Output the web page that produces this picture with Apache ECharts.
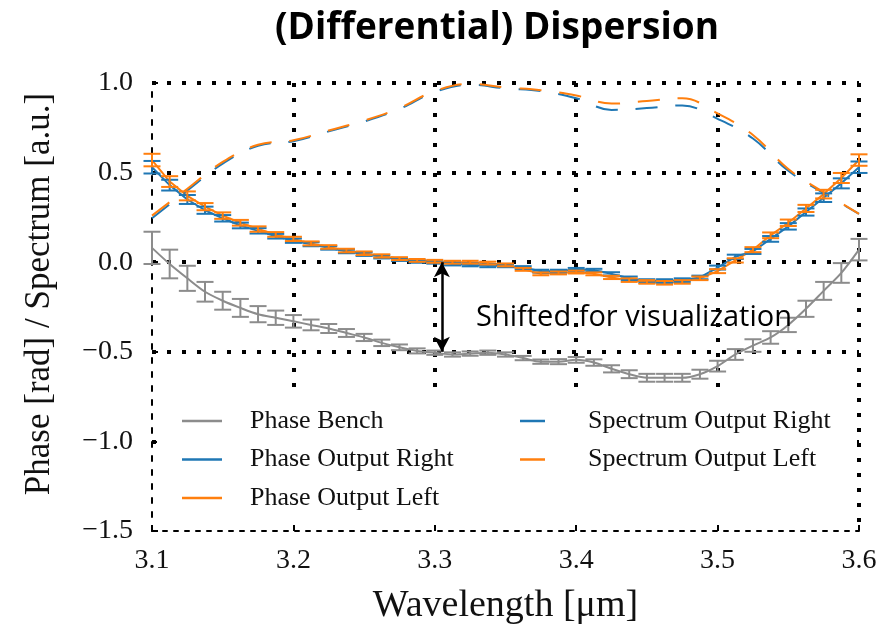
<!DOCTYPE html>
<html>
<head>
<meta charset="utf-8">
<script src="https://cdn.jsdelivr.net/npm/echarts@6/dist/echarts.min.js"></script>
<style>
html, body { margin: 0; padding: 0; background: #fff; }
#chart { width: 892px; height: 630px; }
</style>
</head>
<body>
<div id="chart"></div>
<script>
// sampled wavelengths (um) for the phase curves
var wavelength = [3.1, 3.1125, 3.125, 3.1375, 3.15, 3.1625, 3.175, 3.1875, 3.2, 3.2125,
    3.225, 3.2375, 3.25, 3.2625, 3.275, 3.2875, 3.3, 3.3125, 3.325, 3.3375,
    3.35, 3.3625, 3.375, 3.3875, 3.4, 3.4125, 3.425, 3.4375, 3.45, 3.4625,
    3.475, 3.4875, 3.5, 3.5125, 3.525, 3.5375, 3.55, 3.5625, 3.575, 3.5875, 3.6];

var benchPhase = [0.08, -0.01, -0.09, -0.165, -0.215, -0.255, -0.29, -0.31, -0.33, -0.35,
    -0.37, -0.395, -0.42, -0.45, -0.475, -0.495, -0.505, -0.515, -0.51, -0.505,
    -0.515, -0.535, -0.555, -0.555, -0.545, -0.56, -0.595, -0.625, -0.645, -0.645,
    -0.645, -0.625, -0.58, -0.515, -0.465, -0.42, -0.35, -0.26, -0.16, -0.06, 0.07];
var benchErr = [0.09, 0.08, 0.07, 0.055, 0.05, 0.05, 0.045, 0.04, 0.035, 0.03,
    0.025, 0.022, 0.02, 0.018, 0.016, 0.014, 0.012, 0.012, 0.012, 0.012,
    0.012, 0.012, 0.012, 0.014, 0.016, 0.018, 0.02, 0.022, 0.022, 0.022,
    0.022, 0.025, 0.03, 0.03, 0.035, 0.035, 0.04, 0.045, 0.05, 0.055, 0.06];

var phaseRight = [0.53, 0.43, 0.35, 0.29, 0.245, 0.205, 0.175, 0.145, 0.12, 0.1,
    0.08, 0.06, 0.045, 0.03, 0.015, 0.005, 0.0, -0.01, -0.015, -0.02,
    -0.02, -0.03, -0.05, -0.05, -0.04, -0.045, -0.065, -0.09, -0.105, -0.105,
    -0.1, -0.085, -0.03, 0.03, 0.06, 0.13, 0.2, 0.28, 0.36, 0.44, 0.53];
var phaseLeft = [0.57, 0.45, 0.37, 0.31, 0.26, 0.22, 0.185, 0.155, 0.13, 0.105,
    0.085, 0.065, 0.05, 0.035, 0.02, 0.01, 0.005, 0.0, 0.0, -0.005,
    -0.015, -0.04, -0.065, -0.06, -0.055, -0.065, -0.085, -0.1, -0.11, -0.115,
    -0.11, -0.09, -0.05, 0.01, 0.07, 0.15, 0.22, 0.3, 0.38, 0.47, 0.57];
var outputErr = [0.035, 0.03, 0.025, 0.02, 0.018, 0.016, 0.015, 0.013, 0.012, 0.011,
    0.01, 0.01, 0.01, 0.009, 0.008, 0.008, 0.008, 0.008, 0.008, 0.008,
    0.008, 0.008, 0.008, 0.008, 0.008, 0.008, 0.009, 0.01, 0.01, 0.01,
    0.01, 0.01, 0.011, 0.012, 0.014, 0.016, 0.018, 0.02, 0.024, 0.028, 0.032];

// spectra (normalised)
var specWavelength = [3.1, 3.125, 3.15, 3.175, 3.2, 3.225, 3.25, 3.275, 3.3, 3.325, 3.35,
    3.375, 3.4, 3.425, 3.45, 3.475, 3.5, 3.525, 3.55, 3.575, 3.6];
var specRight = [0.245, 0.4, 0.55, 0.65, 0.675, 0.73, 0.785, 0.855, 0.95, 0.99, 0.97,
    0.955, 0.915, 0.85, 0.86, 0.875, 0.8, 0.69, 0.51, 0.385, 0.27];
var specLeft = [0.26, 0.41, 0.56, 0.655, 0.68, 0.735, 0.79, 0.86, 0.955, 0.995, 0.975,
    0.96, 0.93, 0.885, 0.9, 0.915, 0.83, 0.71, 0.52, 0.39, 0.27];

// "shifted" arrow between the two phase baselines
var shiftArrow = [[3.305, 0.0], [3.305, -0.5]];

var xTicks = ['3.1', '3.2', '3.3', '3.4', '3.5', '3.6'];

var serif = 'Liberation Serif';
var gray = '#8c8c8c', blue = '#1f77b4', orange = '#ff7f0e';

function pairs(xs, ys) {
    return xs.map(function (x, i) { return [x, ys[i]]; });
}

function bars(xs, ys, err) {
    return xs.map(function (x, i) { return [x, ys[i] - err[i], ys[i] + err[i]]; });
}

function errorBarItem(params, api) {
    var x = api.value(0);
    var lo = api.coord([x, api.value(1)]);
    var hi = api.coord([x, api.value(2)]);
    var w = 8.5;
    var style = { stroke: api.visual('color'), lineWidth: 2, fill: null };
    return {
        type: 'group',
        children: [
            { type: 'line', shape: { x1: lo[0] - w, y1: lo[1], x2: lo[0] + w, y2: lo[1] }, style: style },
            { type: 'line', shape: { x1: hi[0] - w, y1: hi[1], x2: hi[0] + w, y2: hi[1] }, style: style },
            { type: 'line', shape: { x1: lo[0], y1: lo[1], x2: hi[0], y2: hi[1] }, style: style }
        ]
    };
}

function errorSeries(name, color, data) {
    return {
        name: name,
        type: 'custom',
        renderItem: errorBarItem,
        itemStyle: { color: color },
        encode: { x: 0, y: [1, 2] },
        data: data,
        z: 3,
        silent: true
    };
}

var gridDots = { color: '#000', width: 4, type: [4, 11] };
var legendText = { fontFamily: serif, fontSize: 26, color: '#111', lineHeight: 26 };

var chart = echarts.init(document.getElementById('chart'));

var option = {
    animation: false,
    grid: { left: 152, right: 33, top: 83, bottom: 97 },
    graphic: [
        {
            type: 'text', z: 10,
            x: 497, y: 28,
            style: {
                text: '(Differential) Dispersion',
                font: 'bold 37px "Open Sans"',
                fill: '#000',
                align: 'center',
                verticalAlign: 'middle'
            }
        },
        {
            type: 'text', z: 10,
            x: 40, y: 294,
            rotation: Math.PI / 2,
            style: {
                text: 'Phase [rad] / Spectrum [a.u.]',
                font: '35px "Liberation Serif"',
                fill: '#111',
                align: 'center',
                verticalAlign: 'middle'
            }
        },
        {
            type: 'rect', z: 5,
            shape: { x: 157, y: 398, width: 698, height: 124 },
            style: { fill: '#fff' }
        },
        {
            type: 'text', z: 10,
            x: 476, y: 318,
            style: {
                text: 'Shifted for visualization',
                font: '29px "Open Sans"',
                fill: '#000',
                verticalAlign: 'middle'
            }
        }
    ],
    legend: [
        {
            orient: 'vertical',
            left: 177, top: 403,
            itemWidth: 40, itemHeight: 2.5, itemGap: 12.5,
            icon: 'rect',
            z: 6,
            data: ['Phase Bench', 'Phase Output Right', 'Phase Output Left'],
            textStyle: Object.assign({ padding: [0, 0, 0, 23] }, legendText)
        },
        {
            orient: 'vertical',
            left: 515, top: 403,
            itemWidth: 25, itemHeight: 2.5, itemGap: 12.5,
            icon: 'rect',
            z: 6,
            data: ['Spectrum Output Right', 'Spectrum Output Left'],
            textStyle: Object.assign({ padding: [0, 0, 0, 38] }, legendText)
        }
    ],
    xAxis: {
        type: 'value',
        min: 3.1, max: 3.6, interval: 0.1,
        name: 'Wavelength [\u03bcm]',
        nameLocation: 'middle',
        nameGap: 56,
        nameTextStyle: { fontFamily: serif, fontSize: 38, color: '#111' },
        axisLine: { onZero: false, lineStyle: { color: '#000', width: 2, type: [4, 7] } },
        axisTick: { inside: true, length: 6, lineStyle: { color: '#000', width: 2 } },
        axisLabel: {
            fontFamily: serif, fontSize: 28, color: '#111', margin: 16,
            formatter: function (v) { return xTicks[Math.round((v - 3.1) * 10)]; }
        },
        splitLine: { show: true, showMinLine: false, showMaxLine: true, lineStyle: gridDots }
    },
    yAxis: {
        type: 'value',
        min: -1.5, max: 1.0, interval: 0.5,
        axisLine: { show: true, onZero: false, lineStyle: { color: '#000', width: 2, type: [5, 9] } },
        axisTick: { show: true, inside: true, length: 6, lineStyle: { color: '#000', width: 2 } },
        axisLabel: {
            fontFamily: serif, fontSize: 28, color: '#111', margin: 19,
            formatter: function (v) { return v.toFixed(1).replace('-', '\u2212'); }
        },
        splitLine: { show: true, showMinLine: false, showMaxLine: true, lineStyle: gridDots }
    },
    series: [
        {
            name: 'Phase Bench', type: 'line', smooth: 0.3, showSymbol: false,
            color: gray, lineStyle: { width: 2, color: gray },
            data: pairs(wavelength, benchPhase), z: 2
        },
        {
            name: 'Phase Output Right', type: 'line', showSymbol: false,
            color: blue, lineStyle: { width: 2, color: blue },
            data: pairs(wavelength, phaseRight), z: 2
        },
        {
            name: 'Phase Output Left', type: 'line', showSymbol: false,
            color: orange, lineStyle: { width: 2, color: orange },
            data: pairs(wavelength, phaseLeft), z: 2,
            markLine: {
                silent: true,
                symbol: ['arrow', 'arrow'],
                symbolSize: [12, 15],
                label: { show: false },
                lineStyle: { color: '#000', width: 2.5, type: 'solid' },
                data: [[{ coord: shiftArrow[0] }, { coord: shiftArrow[1] }]]
            }
        },
        {
            name: 'Spectrum Output Right', type: 'line', smooth: 0.4, showSymbol: false,
            color: blue, lineStyle: { width: 2, color: blue, type: [22, 18] },
            data: pairs(specWavelength, specRight), z: 2
        },
        {
            name: 'Spectrum Output Left', type: 'line', smooth: 0.4, showSymbol: false,
            color: orange, lineStyle: { width: 2, color: orange, type: [22, 18] },
            data: pairs(specWavelength, specLeft), z: 2
        },
        errorSeries('bench err', gray, bars(wavelength, benchPhase, benchErr)),
        errorSeries('right err', blue, bars(wavelength, phaseRight, outputErr)),
        errorSeries('left err', orange, bars(wavelength, phaseLeft, outputErr))
    ]
};

chart.setOption(option);
</script>
</body>
</html>
